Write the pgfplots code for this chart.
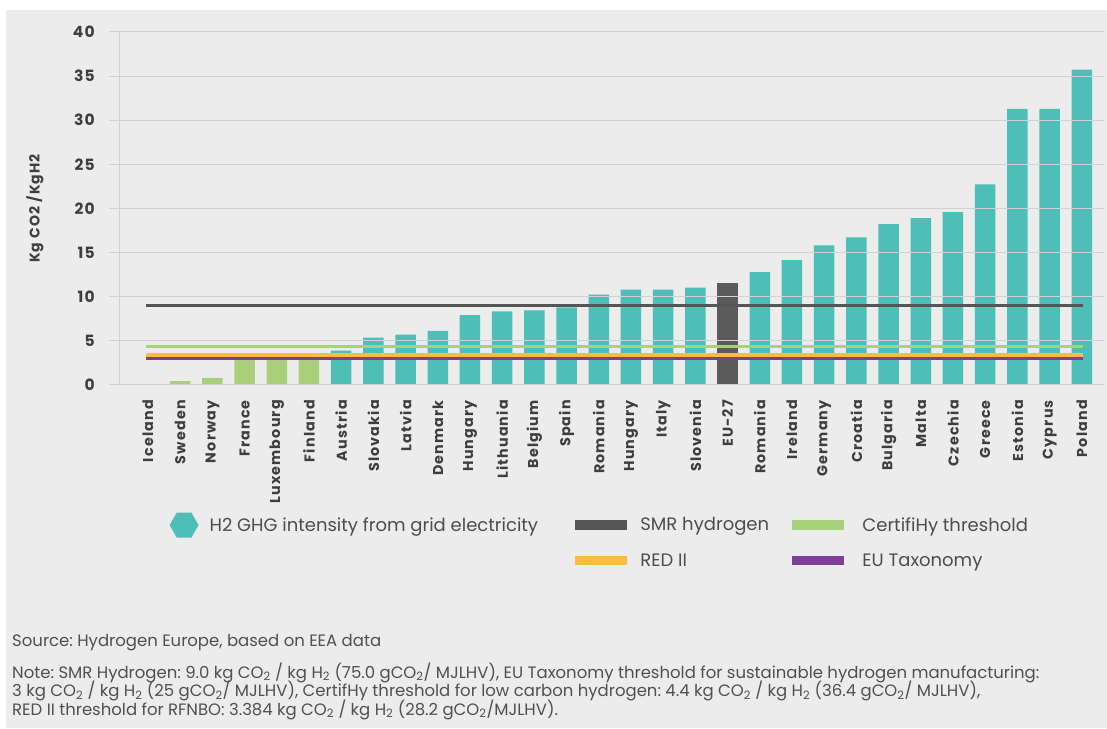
\documentclass[border=0pt]{standalone}
\usepackage{fontspec}
\setmainfont{Poppins}
\newfontfamily\tickfont[LetterSpace=8]{Poppins}
\usepackage{pgfplots}
\pgfplotsset{compat=1.18}
\usetikzlibrary{shapes.geometric}
\definecolor{bg}{HTML}{ECECEC}
\definecolor{gridc}{HTML}{D2D2D2}
\definecolor{tickc}{HTML}{3E3E3E}
\definecolor{legc}{HTML}{4D4D4D}
\definecolor{notec}{HTML}{505050}
\definecolor{barteal}{HTML}{4DBFB7}
\definecolor{bargreen}{HTML}{A9CF7A}
\definecolor{bardark}{HTML}{5B5B5B}
\definecolor{smrc}{HTML}{555555}
\definecolor{certc}{HTML}{A8D17C}
\definecolor{redc}{HTML}{FBBA4A}
\definecolor{taxc}{HTML}{7E3F98}
\newcommand{\co}{CO\textsubscript{2}}
\newcommand{\hh}{H\textsubscript{2}}
\frenchspacing
\begin{document}
\begin{tikzpicture}[x=1pt,y=1pt]
\fill[bg] (6,0) rectangle (1107,718);
\begin{axis}[
  at={(119pt,343pt)}, anchor=south west,
  scale only axis, width=985pt, height=353pt,
  xmin=-0.9, xmax=29.69, ymin=0, ymax=40,
  axis x line*=bottom, axis y line*=left,
  axis line style={draw=gridc, line width=1pt},
  axis on top,
  ytick={0,5,...,40},
  xtick={0,...,29},
  xticklabels={Iceland,Sweden,Norway,France,Luxembourg,Finland,Austria,Slovakia,Latvia,Denmark,Hungary,Lithuania,Belgium,Spain,Romania,Hungary,Italy,Slovenia,EU-27,Romania,Ireland,Germany,Croatia,Bulgaria,Malta,Czechia,Greece,Estonia,Cyprus,Poland},
  ymajorgrids, grid style={draw=gridc, line width=1pt},
  major tick length=10pt, tick align=outside,
  ytick style={draw=gridc, line width=1pt},
  xtick style={draw=none},
  /pgf/number format/assume math mode=true,
  yticklabel style={font=\tickfont\bfseries\fontsize{15.5}{16}\selectfont, text=tickc, anchor=east, inner sep=0pt, xshift=-14pt},
  xticklabel style={font=\tickfont\bfseries\fontsize{14.3}{15}\selectfont, text=tickc, rotate=90, anchor=east, inner sep=0pt, xshift=-5pt},
  ylabel={Kg CO2 /KgH2},
  every axis y label/.style={at={(axis description cs:-0.0853,0.5)}, rotate=90, anchor=center, font=\tickfont\bfseries\fontsize{14}{15}\selectfont, text=tickc},
  legend columns=3, legend cell align=left,
  legend style={at={(0.0366,-0.3612)}, anchor=north west, draw=none, fill=none,
    inner sep=0pt, outer sep=0pt, column sep=0pt, row sep=16pt,
    font=\fontsize{18}{20}\selectfont, text=legc,
    nodes={inner sep=0pt, outer sep=0pt},
    /tikz/column 1/.style={column sep=11pt},
    /tikz/column 2/.style={column sep=37pt},
    /tikz/column 3/.style={column sep=13pt},
    /tikz/column 4/.style={column sep=23pt},
    /tikz/column 5/.style={column sep=18pt}},
]
\addplot[ybar, bar width=20.5pt, bar shift=0pt, fill=barteal, draw=none,
  legend image code/.code={\node[regular polygon, regular polygon sides=6, minimum size=29pt, inner sep=0pt, fill=barteal, draw=none] at (14.5pt,0pt) {};}]
  coordinates {(6,3.9)(7,5.36)(8,5.7)(9,6.12)(10,7.93)(11,8.35)(12,8.46)(13,8.8)(14,10.23)(15,10.8)(16,10.8)(17,11.03)(19,12.8)(20,14.16)(21,15.83)(22,16.73)(23,18.24)(24,18.92)(25,19.6)(26,22.74)(27,31.3)(28,31.3)(29,35.73)};
\addlegendentry{H2 GHG intensity from grid electricity}
\addplot[ybar, bar width=20.5pt, bar shift=0pt, fill=bargreen, draw=none, forget plot]
  coordinates {(0,0)(1,0.45)(2,0.8)(3,3.0)(4,3.0)(5,3.0)};
\addplot[ybar, bar width=20.5pt, bar shift=0pt, fill=bardark, draw=none, forget plot]
  coordinates {(18,11.6)};
\addplot[smrc, line width=3.3pt, no marks,
  legend image code/.code={\path (0pt,-3pt) rectangle (49pt,3pt); \draw[line width=5.5pt, line cap=round] (2.75pt,0pt) -- (46.25pt,0pt);}]
  coordinates {(-0.06,9)(29.03,9)};
\addlegendentry{SMR hydrogen}
\addplot[certc, line width=3.3pt, no marks,
  legend image code/.code={\path (0pt,-3pt) rectangle (49pt,3pt); \draw[line width=5.5pt, line cap=round] (2.75pt,0pt) -- (46.25pt,0pt);}]
  coordinates {(-0.06,4.4)(29.03,4.4)};
\addlegendentry{CertifiHy threshold}
\addlegendimage{empty legend}
\addlegendentry{}
\addplot[redc, line width=3.3pt, no marks,
  legend image code/.code={\path (0pt,-3pt) rectangle (49pt,3pt); \draw[line width=5.5pt, line cap=round] (2.75pt,0pt) -- (46.25pt,0pt);}]
  coordinates {(-0.06,3.384)(29.03,3.384)};
\addlegendentry{RED II}
\addplot[taxc, line width=3.3pt, no marks,
  legend image code/.code={\path (0pt,-3pt) rectangle (49pt,3pt); \draw[line width=5.5pt, line cap=round] (2.75pt,0pt) -- (46.25pt,0pt);}]
  coordinates {(-0.06,3.0)(29.03,3.0)};
\addlegendentry{EU Taxonomy}
\end{axis}
\begin{scope}[every node/.style={anchor=base west, inner sep=0pt, text=notec, font=\fontsize{16.5}{18}\selectfont}]
\node at (12,82) {Source: Hydrogen Europe, based on EEA data};
\node at (12,50) {Note: SMR Hydrogen: 9.0 kg \co{} / kg \hh{} (75.0 g\co/ MJLHV), EU Taxonomy threshold for sustainable hydrogen manufacturing:};
\node at (12,31.5) {3 kg \co{} / kg \hh{} (25 g\co/ MJLHV), CertifHy threshold for low carbon hydrogen: 4.4 kg \co{} / kg \hh{} (36.4 g\co/ MJLHV),};
\node at (12,13) {RED II threshold for RFNBO: 3.384 kg \co{} / kg \hh{} (28.2 g\co/MJLHV).};
\end{scope}
\pgfresetboundingbox
\useasboundingbox (0,0) rectangle (1107,728);
\end{tikzpicture}
\end{document}
